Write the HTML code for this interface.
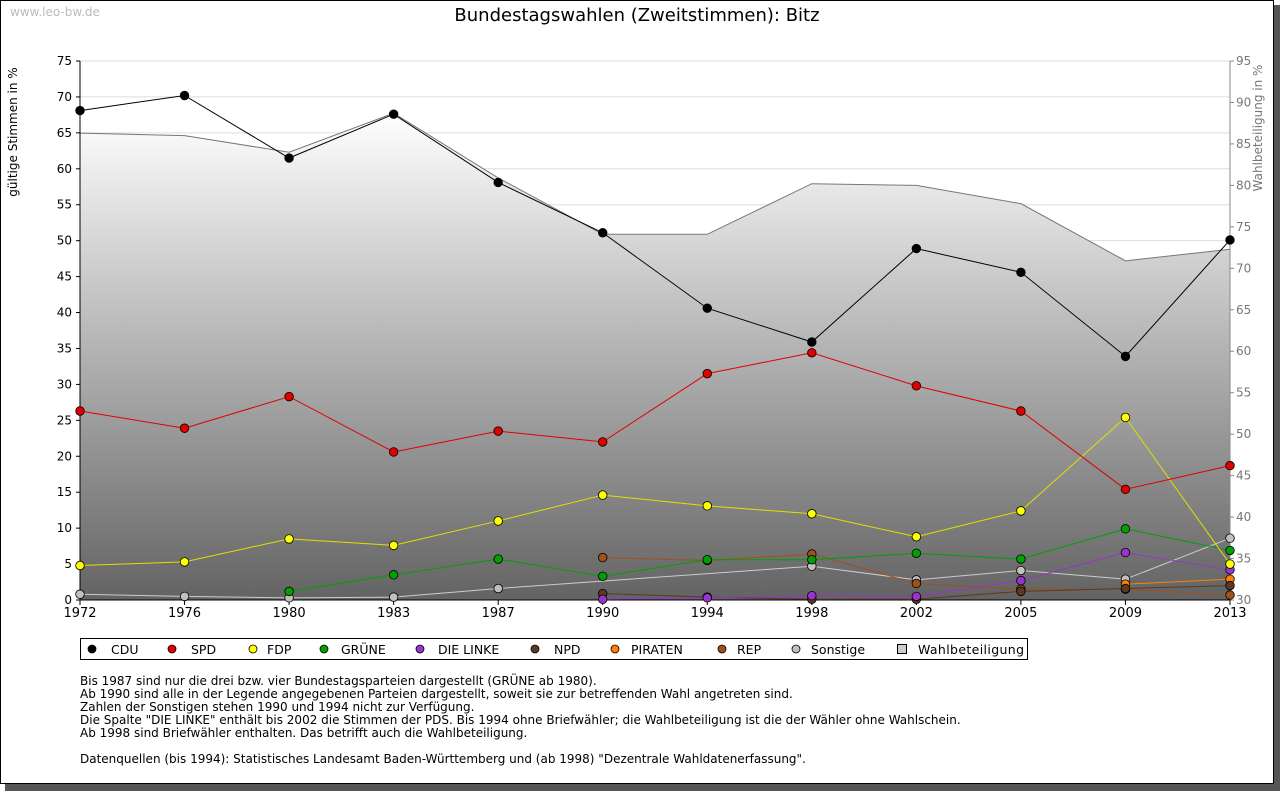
<!DOCTYPE html>
<html><head><meta charset="utf-8"><style>
body{margin:0;background:#fff;font-family:"Liberation Sans","DejaVu Sans",sans-serif}
svg text{font-family:"DejaVu Sans","Liberation Sans",sans-serif}
</style></head><body>
<svg id="c" width="1280" height="791">
<defs><linearGradient id="g" x1="0" y1="0" x2="0" y2="1"><stop offset="0" stop-color="#ffffff"/><stop offset="1" stop-color="#636363"/></linearGradient></defs>
<rect x="5" y="5" width="1275" height="786" fill="#555"/>
<rect x="0.5" y="0.5" width="1273" height="783" fill="#fff" stroke="#000"/>
<text x="10" y="16" font-size="12" fill="#bbb">www.leo-bw.de</text>
<text x="637" y="21" font-size="18" text-anchor="middle">Bundestagswahlen (Zweitstimmen): Bitz</text>
<text transform="translate(17,132) rotate(-90)" font-size="12" text-anchor="middle">gültige Stimmen in %</text>
<text transform="translate(1262,128) rotate(-90)" font-size="12" fill="#777" text-anchor="middle">Wahlbeteiligung in %</text>
<g id="grid"></g><g id="area"></g><g id="axes"></g><g id="lines"></g>
<g id="legend"></g>
<text font-size="12">
<tspan x="80" y="685">Bis 1987 sind nur die drei bzw. vier Bundestagsparteien dargestellt (GRÜNE ab 1980).</tspan>
<tspan x="80" y="698">Ab 1990 sind alle in der Legende angegebenen Parteien dargestellt, soweit sie zur betreffenden Wahl angetreten sind.</tspan>
<tspan x="80" y="711">Zahlen der Sonstigen stehen 1990 und 1994 nicht zur Verfügung.</tspan>
<tspan x="80" y="724">Die Spalte "DIE LINKE" enthält bis 2002 die Stimmen der PDS. Bis 1994 ohne Briefwähler; die Wahlbeteiligung ist die der Wähler ohne Wahlschein.</tspan>
<tspan x="80" y="737">Ab 1998 sind Briefwähler enthalten. Das betrifft auch die Wahlbeteiligung.</tspan>
<tspan x="80" y="763">Datenquellen (bis 1994): Statistisches Landesamt Baden-Württemberg und (ab 1998) "Dezentrale Wahldatenerfassung".</tspan>
</text>
</svg>
<script>
const years=["1972","1976","1980","1983","1987","1990","1994","1998","2002","2005","2009","2013"];
const cdu=[68.1,70.2,61.5,67.6,58.1,51.1,40.6,35.9,48.9,45.6,33.9,50.1];
const spd=[26.3,23.9,28.3,20.6,23.5,22.0,31.5,34.4,29.8,26.3,15.4,18.7];
const fdp=[4.8,5.3,8.5,7.6,11.0,14.6,13.1,12.0,8.8,12.4,25.4,5.0];
const gruene=[null,null,1.2,3.5,5.7,3.3,5.6,5.6,6.5,5.7,9.9,6.9];
const linke=[null,null,null,null,null,0.1,0.3,0.6,0.5,2.7,6.6,4.2];
const npd=[null,null,null,null,null,0.9,0.4,0.1,0.1,1.2,1.6,2.0];
const piraten=[null,null,null,null,null,null,null,null,null,null,2.2,2.9];
const rep=[null,null,null,null,null,5.9,5.5,6.4,2.3,1.5,1.5,0.7];
const sonstige=[0.8,0.5,0.3,0.4,1.6,null,null,4.7,2.8,4.1,2.9,8.6];
const turnout=[86.3,86.0,84.0,88.7,80.9,74.1,74.1,80.2,80.0,77.8,70.9,72.3];
const yTicks=[0,5,10,15,20,25,30,35,40,45,50,55,60,65,70,75];
const y2Ticks=[30,35,40,45,50,55,60,65,70,75,80,85,90,95];
const NS="http://www.w3.org/2000/svg";
const X0=80,X1=1230,Y0=600,Y1=61;
const x=i=>X0+i*(X1-X0)/(years.length-1);
const y=v=>Y0-v*(Y0-Y1)/75;
const y2=v=>Y0-(v-30)*(Y0-Y1)/65;
function mk(t,a,p){const e=document.createElementNS(NS,t);for(const k in a)e.setAttribute(k,a[k]);document.getElementById(p).appendChild(e);return e;}
yTicks.forEach(v=>{
 const l=mk('line',{x1:X0,x2:X1,y1:y(v),y2:y(v),stroke:'#ddd'},'grid');
 
 
 mk('line',{x1:X0-4,x2:X0,y1:y(v),y2:y(v),stroke:'#000'},'axes');
 const t=mk('text',{x:X0-8,y:y(v)+4,'font-size':12,'text-anchor':'end'},'axes');t.textContent=v;
 
 
});
y2Ticks.forEach(v=>{
 mk('line',{x1:X1,x2:X1+4,y1:y2(v),y2:y2(v),stroke:'#888'},'axes');
 const t=mk('text',{x:X1+6,y:y2(v)+4,'font-size':12,fill:'#777'},'axes');t.textContent=v;
 
 
});
let d='M'+x(0)+','+Y0;turnout.forEach((v,i)=>d+=' L'+x(i)+','+y2(v));d+=' L'+x(turnout.length-1)+','+Y0+'Z';
const ar=mk('path',{d:d,fill:'url(#g)'},'area');


let d2='';turnout.forEach((v,i)=>d2+=(i?' L':'M')+x(i)+','+y2(v));
mk('path',{d:d2,fill:'none',stroke:'#777'},'area');
mk('line',{x1:X0,x2:X0,y1:Y1,y2:Y0,stroke:'#000'},'axes');
mk('line',{x1:X1,x2:X1,y1:Y1,y2:Y0,stroke:'#888'},'axes');
mk('line',{x1:X0,x2:X1,y1:Y0,y2:Y0,stroke:'#000'},'axes');
years.forEach((yr,i)=>{mk('line',{x1:x(i),x2:x(i),y1:Y0,y2:Y0+5,stroke:'#000'},'axes');
 const t=mk('text',{x:x(i),y:Y0+17,'font-size':13,'text-anchor':'middle'},'axes');t.textContent=yr;
 
 });
const series=[["CDU",cdu,'#000','#000',false],["SPD",spd,'#e00000','#e00000',false],["FDP",fdp,'#ffff00','#e0e000',false],["GRÜNE",gruene,'#00a000','#00a000',false],["DIE LINKE",linke,'#9933cc','#9933cc',false],["NPD",npd,'#5a3a22','#5a3a22',false],["PIRATEN",piraten,'#ff8000','#ff8000',false],["REP",rep,'#a0501a','#a0501a',false],["Sonstige",sonstige,'#c0c0c0','#ccc',true]];
const draw=[series[8],series[7],series[6],series[5],series[4],series[3],series[2],series[1],series[0]];
draw.forEach(([n,arr,col,lc,bridge])=>{
 let p='',pen=false;
 arr.forEach((v,i)=>{if(v==null){if(!bridge)pen=false;return;}p+=(pen?' L':' M')+x(i)+','+y(v);pen=true;});
 const l=mk('path',{d:p,fill:'none',stroke:lc,'stroke-width':1},'lines');
 
 
 arr.forEach((v,i)=>{if(v==null)return;
  const m=mk('circle',{cx:x(i),cy:y(v),r:4.3,fill:col,stroke:'#000','stroke-width':0.8},'lines');
  
  });
});
mk('rect',{x:80.5,y:638.5,width:947,height:21,fill:'#fff',stroke:'#000'},'legend');
const lx=[92,172,253,324,420,535,615,722,796];
const tx=[111,191,267,341,438,554,631,737,811];
series.forEach(([n,arr,col],i)=>{const cy=649;
 const m=mk('circle',{cx:lx[i],cy:cy,r:4,fill:col,stroke:'#000','stroke-width':0.8},'legend');
 
 
 const t=mk('text',{x:tx[i],y:cy+5,'font-size':12.5},'legend');t.textContent=n;
 
 });
const lr=mk('rect',{x:897.5,y:644.5,width:9,height:9,fill:'#ccc',stroke:'#000'},'legend');


const lt=mk('text',{x:918,y:654,'font-size':12.5,textLength:106},'legend');lt.textContent='Wahlbeteiligung';


</script>
</body></html>
